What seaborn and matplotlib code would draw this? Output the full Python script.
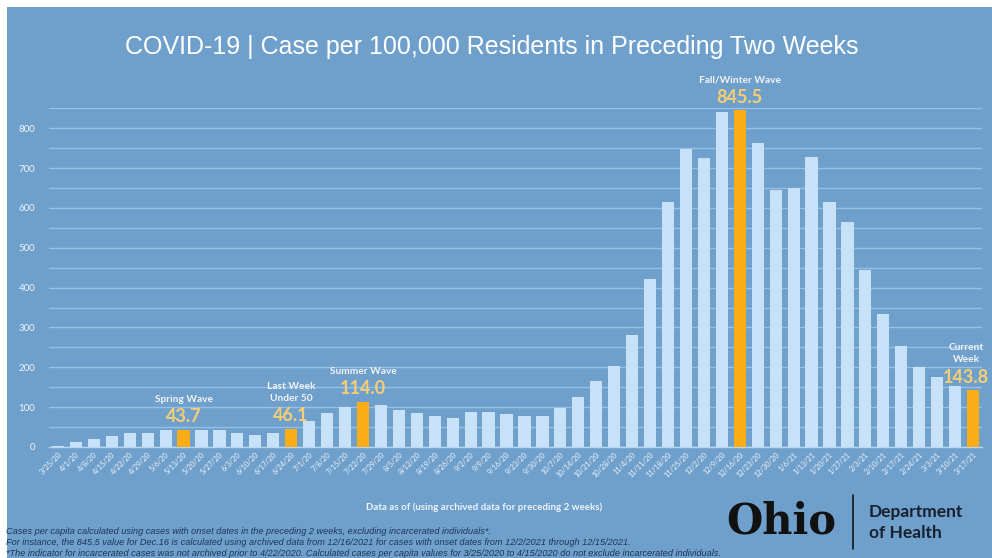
import matplotlib
matplotlib.use("Agg")
import matplotlib.pyplot as plt
import seaborn as sns
import pandas as pd
import numpy as np
from matplotlib.patches import Rectangle
from matplotlib.lines import Line2D

# ---------------- data ----------------
weeks = ["3/25/20", "4/1/20", "4/8/20", "4/15/20", "4/22/20", "4/29/20", "5/6/20",
         "5/13/20", "5/20/20", "5/27/20", "6/3/20", "6/10/20", "6/17/20", "6/24/20",
         "7/1/20", "7/8/20", "7/15/20", "7/22/20", "7/29/20", "8/5/20", "8/12/20",
         "8/19/20", "8/26/20", "9/2/20", "9/9/20", "9/16/20", "9/23/20", "9/30/20",
         "10/7/20", "10/14/20", "10/21/20", "10/28/20", "11/4/20", "11/11/20",
         "11/18/20", "11/25/20", "12/2/20", "12/9/20", "12/16/20", "12/23/20",
         "12/30/20", "1/6/21", "1/13/21", "1/20/21", "1/27/21", "2/3/21", "2/10/21",
         "2/17/21", "2/24/21", "3/3/21", "3/10/21", "3/17/21"]
cases = [3, 12, 21, 27, 36, 36, 42, 43.7, 42, 42, 34, 30, 35, 46.1,
         66, 85, 101, 114.0, 105, 92, 86, 78, 72, 88, 87, 84, 78, 78,
         98, 125, 165, 203, 280, 422, 615, 748, 725, 840, 845.5, 763,
         646, 649, 729, 615, 565, 444, 335, 253, 201, 176, 154, 143.8]
highlight_weeks = ["5/13/20", "6/24/20", "7/22/20", "12/16/20", "3/17/21"]
highlight_labels = ["Spring Wave", "Last Week\nUnder 50", "Summer Wave",
                    "Fall/Winter Wave", "Current\nWeek"]
y_ticks = [0, 100, 200, 300, 400, 500, 600, 700, 800]

title = "COVID-19 | Case per 100,000 Residents in Preceding Two Weeks"
xlabel = "Data as of (using archived data for preceding 2 weeks)"
notes = ["Cases per capita calculated using cases with onset dates in the preceding 2 weeks, excluding incarcerated individuals*.",
         "For instance, the 845.5 value for Dec.16 is calculated using archived data from 12/16/2021 for cases with onset dates from 12/2/2021 through 12/15/2021.",
         "*The indicator for incarcerated cases was not archived prior to 4/22/2020. Calculated cases per capita values for 3/25/2020 to 4/15/2020 do not exclude incarcerated individuals."]

# ---------------- style ----------------
BG = "#6fa0cc"
BAR = "#c7e2f8"
ORANGE = "#fbad18"
GRID = "#97c0e5"
VALC = "#f7cf72"
W, H = 992, 558

sns.set_theme(style="white")
plt.rcParams["font.family"] = ["Lato", "DejaVu Sans"]

df = pd.DataFrame({"week": weeks, "cases": cases})
df["kind"] = np.where(df["week"].isin(highlight_weeks), "hi", "norm")

fig = plt.figure(figsize=(W / 100, H / 100), dpi=100, facecolor="white")
fig.patches.append(Rectangle((7 / W, 0), 1 - 7 / W, 1 - 7 / H, transform=fig.transFigure,
                             facecolor=BG, edgecolor="none", zorder=-10))

ax = fig.add_axes([49 / W, 1 - 447 / H, (982 - 49) / W, (447 - 108) / H])
ax.set_facecolor(BG)
sns.barplot(data=df, x="week", y="cases", hue="kind", order=weeks,
            palette={"norm": BAR, "hi": ORANGE}, dodge=False, width=0.68,
            saturation=1, legend=False, ax=ax, zorder=3, linewidth=0)

ax.set_xlim(-0.5, len(weeks) - 0.5)
ax.set_ylim(0, 851)
ax.set_yticks(y_ticks)
ax.set_yticks(np.arange(50, 851, 100), minor=True)
ax.grid(True, axis="y", which="both", color=GRID, linewidth=1.0, zorder=0)
ax.set_axisbelow(True)
for s in ["top", "right", "left"]:
    ax.spines[s].set_visible(False)
ax.spines["bottom"].set_color("#b9d6f0")
ax.spines["bottom"].set_linewidth(1.0)
ax.tick_params(axis="y", which="both", length=0, labelsize=7, labelcolor="#eef4fa", pad=10)
ax.tick_params(axis="x", which="major", length=0, labelsize=5.3, labelcolor="#eef4fa", pad=3)
ax.set_xticks(range(len(weeks)))
ax.set_xticklabels(weeks, rotation=45, ha="right", rotation_mode="anchor")
ax.set_xticks(np.arange(-0.5, len(weeks), 1), minor=True)
ax.tick_params(axis="x", which="minor", length=2.5, color="#d8e8f6", width=0.8)
ax.set_xlabel("")
ax.set_ylabel("")

# annotations
for wk, lab in zip(highlight_weeks, highlight_labels):
    i = weeks.index(wk)
    v = cases[i]
    xoff = -5 if i == len(weeks) - 1 else 0
    ax.annotate(f"{v:.1f}", (i, v), xytext=(xoff, 3), textcoords="offset points",
                ha="center", va="bottom", fontsize=13, fontweight="bold", color=VALC,
                annotation_clip=False)
    ax.annotate(lab, (i, v), xytext=(xoff, 18.5), textcoords="offset points",
                ha="center", va="bottom", fontsize=7.3, fontweight="bold", color="#f2f4f6",
                linespacing=1.45, annotation_clip=False)

def px(x, y):
    return x / W, 1 - y / H

fig.text(*px(492, 47), title, ha="center", va="center", fontsize=18, color="white",
         family=["Liberation Sans Narrow", "Liberation Sans", "DejaVu Sans"])
fig.text(*px(484, 507), xlabel, ha="center", va="center", fontsize=7,
         fontweight="bold", color="#eef4fa")
for k, (line, y) in enumerate(zip(notes, [531, 542.5, 554])):
    fig.text(*px(6, y), line, ha="left", va="center", fontsize=6.6, style="italic",
             color="#1d3557",
             family=["Liberation Sans", "DejaVu Sans"])

# Ohio Department of Health logo text
fig.text(*px(726, 521), "Ohio", ha="left", va="center", fontsize=30, fontweight="bold",
         color="#111111", family=["DejaVu Serif"])
fig.add_artist(Line2D([853 / W, 853 / W], [1 - 495 / H, 1 - 549 / H], transform=fig.transFigure,
                      color="#151515", linewidth=1.2))
fig.text(*px(869, 512), "Department", ha="left", va="center", fontsize=12.5, fontweight="bold",
         color="#17202e")
fig.text(*px(869, 533), "of Health", ha="left", va="center", fontsize=12.5, fontweight="bold",
         color="#17202e")

fig.savefig("out.png", dpi=100, facecolor="white")
